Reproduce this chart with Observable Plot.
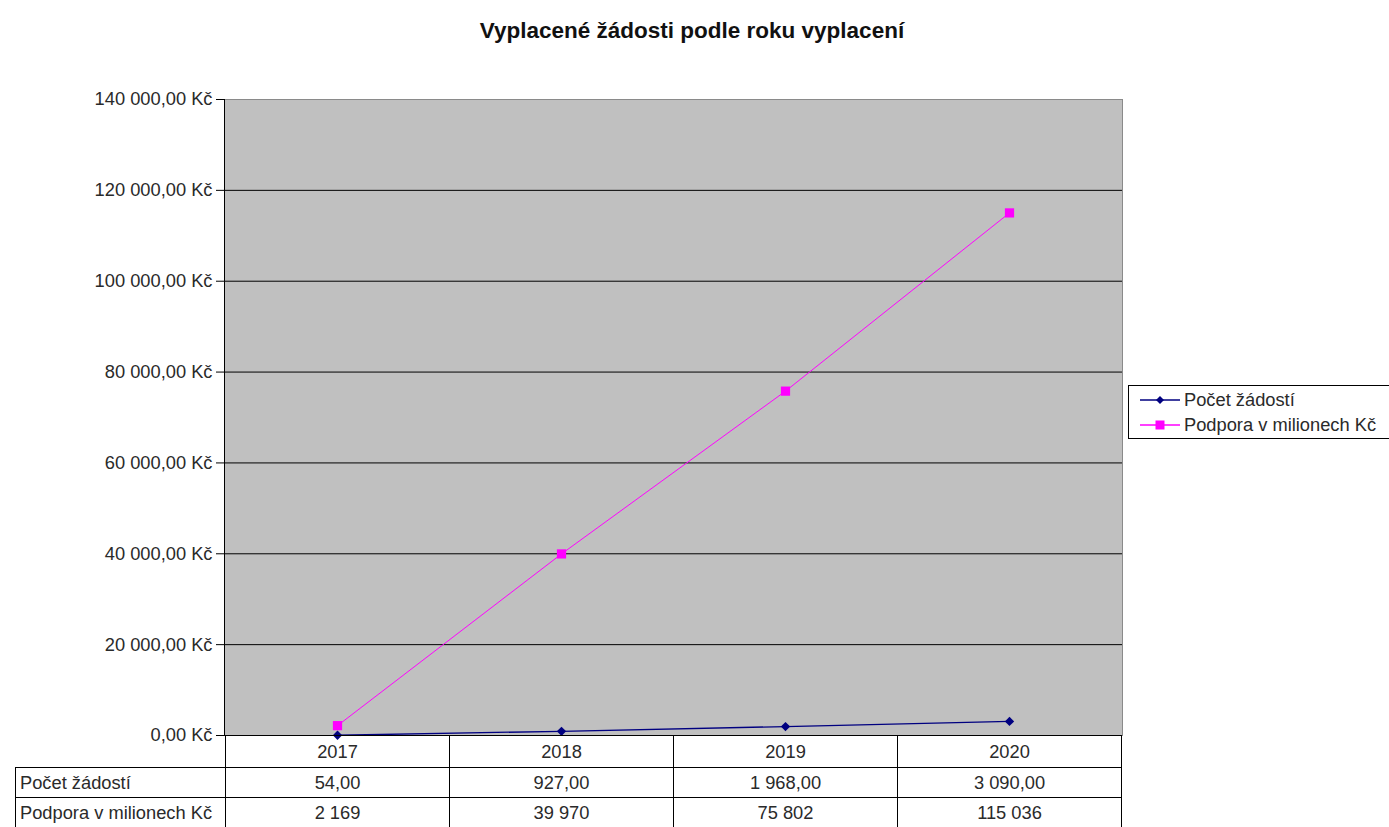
<!DOCTYPE html>
<html><head><meta charset="utf-8">
<script src="https://cdn.jsdelivr.net/npm/d3@7"></script>
<script src="https://cdn.jsdelivr.net/npm/@observablehq/plot@0.6"></script>
<style>
html,body{margin:0;padding:0;background:#fff;overflow:hidden;}
#wrap{position:relative;width:1389px;height:827px;font-family:"Liberation Sans",Arial,sans-serif;color:#2a2a2a;}
#title{position:absolute;left:0;width:1384px;top:18px;text-align:center;font-weight:bold;font-size:22.5px;color:#111;}
.cell{position:absolute;box-sizing:border-box;border:1px solid #000;font-size:18.3px;display:flex;align-items:center;justify-content:center;color:#2a2a2a;}
.cell.lab{justify-content:flex-start;padding-left:4px;}
#legend{position:absolute;left:1128px;top:385px;width:270px;height:54px;box-sizing:border-box;border:1px solid #000;background:#fff;font-size:18.3px;color:#2a2a2a;}
.li{display:flex;align-items:center;height:23px;margin-top:2px;}
.li svg{margin-left:11px;margin-right:4px;}
</style></head>
<body><div id="wrap"><div id="title">Vyplacené žádosti podle roku vyplacení</div></div>
<script>
const years = ["2017","2018","2019","2020"];
const seriesNames = ["Počet žádostí","Podpora v milionech Kč"];
const pocetZadosti = [54, 927, 1968, 3090];
const podpora = [2169, 39970, 75802, 115036];
const pocetLabels = ["54,00","927,00","1 968,00","3 090,00"];
const podporaLabels = ["2 169","39 970","75 802","115 036"];
const yTicks = [0,20000,40000,60000,80000,100000,120000,140000];
const colors = ["#000080","#ff00ff"];

const d1 = years.map((y,i)=>({year:y, value:pocetZadosti[i]}));
const d2 = years.map((y,i)=>({year:y, value:podpora[i]}));
const fmt = d => d3.format(",")(d).replace(/,/g," ") + ",00 Kč";

const chart = Plot.plot({
  width:1389, height:827,
  marginTop:99, marginBottom:92, marginLeft:224, marginRight:267,
  style:{fontFamily:"'Liberation Sans', Arial, sans-serif", fontSize:"18.3px", background:"transparent", color:"#2a2a2a"},
  x:{type:"point", domain:years, padding:0.5, axis:null},
  y:{domain:[0,140000], axis:null},
  marks:[
    Plot.frame({fill:"#c0c0c0", stroke:"#8a8a8a"}),
    Plot.ruleY(yTicks.filter(t=>t>0 && t<140000), {stroke:"#000", strokeWidth:1}),
    Plot.ruleY([0], {stroke:"#000", strokeWidth:1.2}),
    Plot.frame({anchor:"left", stroke:"#000"}),
    Plot.axisY({ticks:yTicks, tickFormat:fmt, tickSize:8, tickPadding:4, fontSize:18.3, stroke:"#000", label:null}),
    Plot.line(d1, {x:"year", y:"value", stroke:colors[0], strokeWidth:1.3}),
    Plot.line(d2, {x:"year", y:"value", stroke:colors[1], strokeWidth:1}),
    Plot.dot(d1, {x:"year", y:"value", symbol:"diamond2", r:4.2, fill:colors[0], stroke:"none"}),
    Plot.dot(d2, {x:"year", y:"value", symbol:"square", r:5.2, fill:colors[1], stroke:"none"})
  ]
});
chart.style.position="absolute"; chart.style.left="0"; chart.style.top="0";
const wrap = document.getElementById("wrap");
wrap.appendChild(chart);
wrap.appendChild(document.getElementById("title"));

// data table aligned with x scale
const xs = chart.scale("x");
const step = (xs.range[1]-xs.range[0])/(years.length);
const bands = years.map(y => [xs.apply(y)-step/2, xs.apply(y)+step/2]);
const rowTops = [735, 767, 797];
const rowH = [33, 31, 31];
function cell(x0,x1,top,h,text,cls){
  const d=document.createElement("div");
  d.className="cell"+(cls?" "+cls:"");
  d.style.left=Math.round(x0)+"px"; d.style.width=(Math.round(x1)-Math.round(x0)+1)+"px";
  d.style.top=top+"px"; d.style.height=h+"px";
  d.textContent=text; wrap.appendChild(d);
}
years.forEach((y,i)=>cell(bands[i][0],bands[i][1],rowTops[0],rowH[0],y));
cell(15,bands[0][0],rowTops[1],rowH[1],seriesNames[0],"lab");
cell(15,bands[0][0],rowTops[2],rowH[2],seriesNames[1],"lab");
pocetLabels.forEach((t,i)=>cell(bands[i][0],bands[i][1],rowTops[1],rowH[1],t));
podporaLabels.forEach((t,i)=>cell(bands[i][0],bands[i][1],rowTops[2],rowH[2],t));

// legend
const lg=document.createElement("div"); lg.id="legend";
const syms=[
 `<polygon points="20,1 24,5 20,9 16,5" fill="${colors[0]}"/>`,
 `<rect x="15.5" y="0.5" width="9" height="9" fill="${colors[1]}"/>`
];
seriesNames.forEach((n,i)=>{
  const it=document.createElement("div"); it.className="li";
  it.innerHTML=`<svg width="40" height="10"><line x1="0" x2="40" y1="5" y2="5" stroke="${colors[i]}" stroke-width="1.3"/>${syms[i]}</svg><span>${n}</span>`;
  lg.appendChild(it);
});
wrap.appendChild(lg);
</script></body></html>
